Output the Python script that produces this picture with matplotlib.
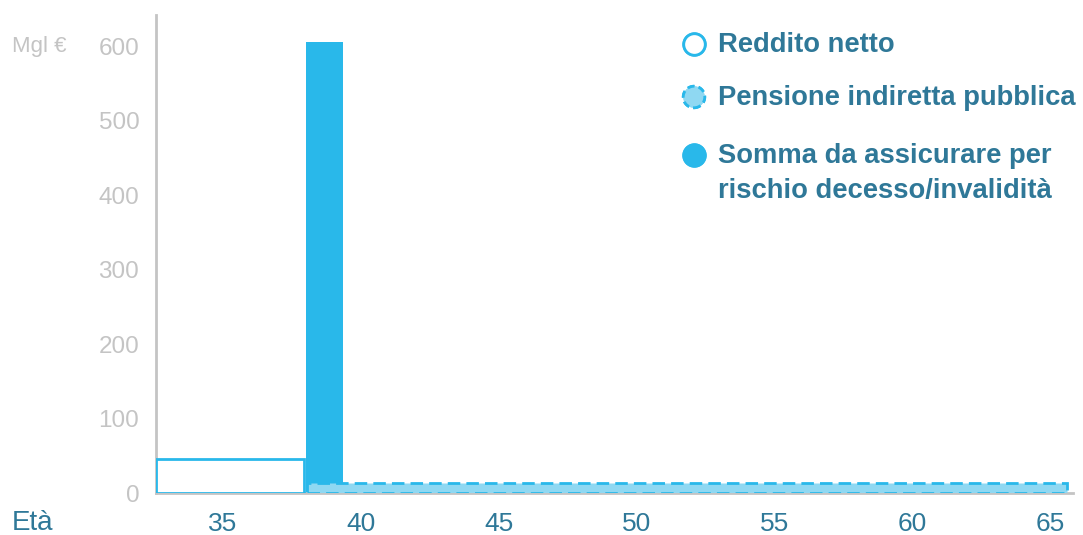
import matplotlib.pyplot as plt
import numpy as np

plt.rcParams['font.family'] = ['Liberation Sans', 'DejaVu Sans']

# età di inizio/fine e valori (migliaia di euro)
reddito_da, reddito_a, reddito_val = 32.57, 37.95, 45
somma_da, somma_a, somma_val = 38.0, 39.35, 605
pensione_da, pensione_a, pensione_val = 38.05, 65.6, 13

anni_tick = [35, 40, 45, 50, 55, 60, 65]
valori_tick = [0, 100, 200, 300, 400, 500, 600]
legenda = ["Reddito netto", "Pensione indiretta pubblica",
           "Somma da assicurare per\nrischio decesso/invalidità"]

blu = '#29b8ea'
azzurro = '#8fd8f2'
testo = '#2f7898'
grigio = '#c4c4c4'

fig = plt.figure(figsize=(10.83, 5.35), dpi=100)
ax = fig.add_axes([0.144, 0.0785, 0.847, 0.894])

ax.bar(somma_da, somma_val, width=somma_a - somma_da, align='edge',
       color=blu, edgecolor='none', zorder=2)
ax.bar(pensione_da, pensione_val, width=pensione_a - pensione_da, align='edge',
       color=azzurro, edgecolor=blu, linestyle=(0, (4.5, 2.2)), linewidth=2, zorder=3)
ax.bar(reddito_da, reddito_val, width=reddito_a - reddito_da, align='edge',
       color='white', edgecolor=blu, linewidth=2, zorder=3)

ax.set_xlim(32.57, 65.83)
ax.set_ylim(0, 642)
ax.set_xticks(anni_tick)
ax.set_yticks(valori_tick)
ax.tick_params(length=0)
ax.tick_params(axis='x', labelsize=19, labelcolor=testo, pad=14)
ax.tick_params(axis='y', labelsize=17.5, labelcolor=grigio, pad=12)
for s in ['top', 'right']:
    ax.spines[s].set_visible(False)
for s in ['left', 'bottom']:
    ax.spines[s].set_color(grigio)
    ax.spines[s].set_linewidth(2)

fig.text(12 / 1083, 1 - 523 / 535, "Età", fontsize=20, color=testo, va='center')
fig.text(12 / 1083, 1 - 47 / 535, "Mgl €", fontsize=16, color=grigio, va='center')

# legenda manuale
ly = [44, 97, 155]
stili = [dict(facecolors='white', edgecolors=blu, linestyles='-'),
         dict(facecolors=azzurro, edgecolors=blu, linestyles=(0, (2.5, 1.5))),
         dict(facecolors=blu, edgecolors=blu, linestyles='-')]
for y, lab, st in zip(ly, legenda, stili):
    fig.add_artist(plt.scatter([694 / 1083], [1 - y / 535], s=240, linewidths=2,
                               transform=fig.transFigure, clip_on=False, **st))
    for k, riga in enumerate(lab.split('\n')):
        fig.text(718 / 1083, 1 - (y + 1 + 35 * k) / 535, riga, fontsize=19.7,
                 fontweight='bold', color=testo, va='center')

fig.savefig('out.png', dpi=100)
